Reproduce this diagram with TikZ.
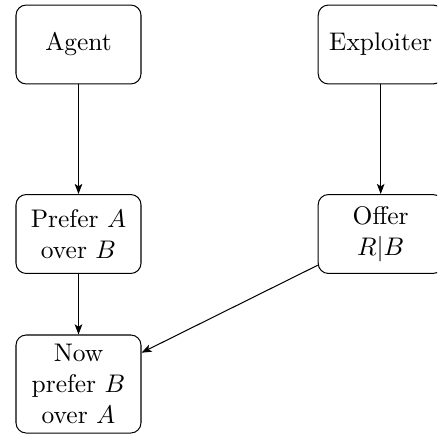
\documentclass[tikz,border=0pt]{standalone}
\usetikzlibrary{arrows.meta}
\begin{document}
\begin{tikzpicture}[
  x=0.3928pt, y=-0.3928pt,
  font=\fontsize{10}{12.2}\selectfont,
  box/.style={draw, thin, rounded corners=4pt, align=center,
    minimum width=49.1pt, minimum height=31pt, inner sep=3.33pt},
  tall/.style={box, minimum height=38.5pt},
  link/.style={-{Stealth[length=4pt,width=3pt,inset=1pt]}, thin}
]
\clip (0,0) rectangle (437,441);

\node[box]  (agent)     at (78.5,44.5)  {Agent};
\node[box]  (exploiter) at (380.7,44.5) {Exploiter};
\node[box]  (prefer)    at (78.5,234)   {Prefer $A$\\over $B$};
\node[box]  (offer)     at (380.7,234)  {Offer\\$R|B$};
\node[tall] (now)       at (78.5,384)   {Now\\prefer $B$\\over $A$};

\draw[link] (agent) -- (prefer);
\draw[link] (exploiter) -- (offer);
\draw[link] (prefer) -- (now);
\draw[link] (offer) -- (now);
\end{tikzpicture}
\end{document}
